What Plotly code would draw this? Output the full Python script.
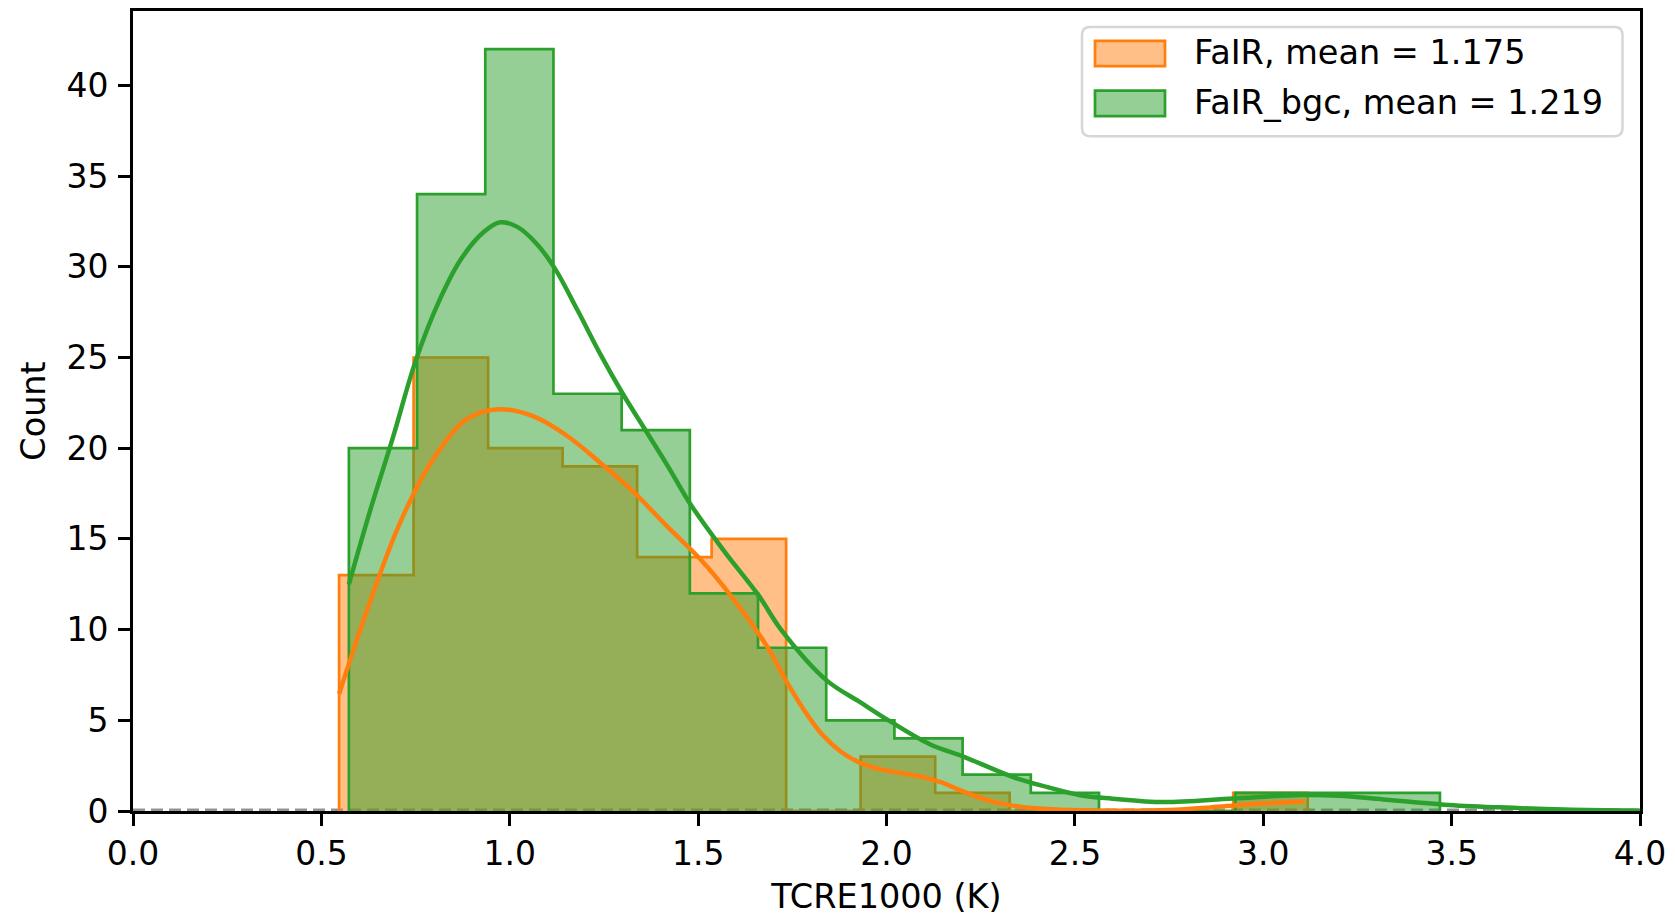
import numpy as np
import plotly.graph_objects as go

# ---------------- data ----------------
orange_name = "FaIR, mean = 1.175"
green_name = "FaIR_bgc, mean = 1.219"

orange_bin_start, orange_bin_end, orange_nbins = 0.547, 3.118, 13
orange_counts = [13, 25, 20, 19, 14, 15, 0, 3, 1, 0, 0, 0, 1]

green_bin_start, green_bin_end, green_nbins = 0.573, 3.469, 16
green_counts = [20, 34, 42, 23, 21, 12, 9, 5, 4, 2, 1, 0, 0, 1, 1, 1]

orange_kde_x = [0.547, 0.620, 0.709, 0.797, 0.886, 0.970, 1.063, 1.151, 1.240,
                1.328, 1.417, 1.505, 1.593, 1.682, 1.730, 1.780, 1.830, 1.880,
                1.930, 1.983, 2.036, 2.089, 2.142, 2.195, 2.248, 2.301, 2.354,
                2.425, 2.513, 2.620, 2.750, 2.860, 2.950, 3.053, 3.110]
orange_kde_y = [6.45, 11.0, 15.9, 19.4, 21.6, 22.15, 21.75, 20.7, 19.2,
                17.6, 15.7, 13.9, 11.7, 9.1, 7.3, 5.6, 4.2, 3.25,
                2.65, 2.3, 2.1, 1.9, 1.6, 1.15, 0.73, 0.42, 0.24,
                0.11, 0.04, 0.02, 0.06, 0.2, 0.35, 0.47, 0.52]

green_kde_x = [0.573, 0.630, 0.690, 0.750, 0.810, 0.870, 0.930, 0.975, 1.020,
               1.070, 1.120, 1.180, 1.240, 1.300, 1.360, 1.420, 1.480, 1.570,
               1.660, 1.720, 1.841, 1.930, 2.009, 2.115, 2.204, 2.336, 2.425,
               2.514, 2.600, 2.735, 2.920, 3.100, 3.200, 3.318, 3.480, 3.628,
               3.800, 4.000]
green_kde_y = [12.5, 16.6, 20.6, 24.8, 28.0, 30.4, 31.9, 32.45, 32.2,
               31.3, 29.9, 27.6, 25.2, 23.0, 21.0, 19.0, 16.9, 14.3,
               11.9, 10.0, 7.2, 6.0, 4.95, 3.68, 3.0, 1.87, 1.33,
               0.87, 0.68, 0.49, 0.69, 0.88, 0.84, 0.64, 0.35, 0.2,
               0.08, 0.02]

x_ticks = [0.0, 0.5, 1.0, 1.5, 2.0, 2.5, 3.0, 3.5, 4.0]
y_ticks = [0, 5, 10, 15, 20, 25, 30, 35, 40]
x_range = [0, 4]
y_range = [0, 44.1]

ORANGE = "#ff7f0e"
GREEN = "#2ca02c"
FONT = "DejaVu Sans"


def step_xy(start, end, nbins, counts):
    edges = np.linspace(start, end, nbins + 1)
    xs = [edges[0]] + list(edges[:-1]) + [edges[-1], edges[-1]]
    ys = [0] + list(counts) + [counts[-1], 0]
    return xs, ys


fig = go.Figure()

# dashed grey baseline
fig.add_trace(go.Scatter(x=x_range, y=[0, 0], mode="lines",
                         line=dict(color="rgba(120,120,120,0.8)", width=5, dash="12px,6px"),
                         showlegend=False, hoverinfo="skip"))

ox, oy = step_xy(orange_bin_start, orange_bin_end, orange_nbins, orange_counts)
fig.add_trace(go.Scatter(x=ox, y=oy, mode="lines", line_shape="hv", fill="tozeroy",
                         fillcolor="rgba(255,127,14,0.5)",
                         line=dict(color=ORANGE, width=2.7), name=orange_name,
                         showlegend=False))

gx, gy = step_xy(green_bin_start, green_bin_end, green_nbins, green_counts)
fig.add_trace(go.Scatter(x=gx, y=gy, mode="lines", line_shape="hv", fill="tozeroy",
                         fillcolor="rgba(44,160,44,0.5)",
                         line=dict(color=GREEN, width=2.7), name=green_name,
                         showlegend=False))

fig.add_trace(go.Scatter(x=orange_kde_x, y=orange_kde_y, mode="lines",
                         line=dict(color=ORANGE, width=4.5, shape="spline", smoothing=1.0),
                         showlegend=False))
fig.add_trace(go.Scatter(x=green_kde_x, y=green_kde_y, mode="lines",
                         line=dict(color=GREEN, width=4.5, shape="spline", smoothing=1.0),
                         showlegend=False))

# ---------------- layout ----------------
L, R, T, B = 133, 1640, 8.5, 814
W, H = 1675, 918


def px(x):
    return (x - L) / (R - L)


def py(y):
    return (B - y) / (B - T)


axis_common = dict(showline=True, mirror=True, linecolor="black", linewidth=2.7,
                   ticks="outside", ticklen=12, tickwidth=2.7, tickcolor="black",
                   showgrid=False, zeroline=False,
                   tickfont=dict(family=FONT, size=33, color="black"))

fig.update_layout(
    width=W, height=H,
    margin=dict(l=L, r=W - R, t=T, b=H - B, pad=0),
    paper_bgcolor="white", plot_bgcolor="white",
    font=dict(family=FONT, color="black"),
    xaxis=dict(range=x_range, tickvals=x_ticks,
               ticktext=[f"{v:.1f}" for v in x_ticks],
               title=dict(text="TCRE1000 (K)", font=dict(family=FONT, size=33.5), standoff=13),
               **axis_common),
    yaxis=dict(range=y_range, tickvals=y_ticks,
               ticktext=[str(v) for v in y_ticks], ticklabelstandoff=3,
               title=dict(text="Count", font=dict(family=FONT, size=33.5), standoff=11),
               **axis_common),
)

# ---------------- manual legend (matplotlib style) ----------------
x0, x1 = px(1082), px(1622.5)
ytop, ybot = py(24.5), py(134.6)
rx, ry = 8 / (R - L), 8 / (B - T)
path = (f"M {x0+rx},{ytop} L {x1-rx},{ytop} Q {x1},{ytop} {x1},{ytop-ry} "
        f"L {x1},{ybot+ry} Q {x1},{ybot} {x1-rx},{ybot} "
        f"L {x0+rx},{ybot} Q {x0},{ybot} {x0},{ybot+ry} "
        f"L {x0},{ytop-ry} Q {x0},{ytop} {x0+rx},{ytop} Z")
fig.add_shape(type="path", path=path, xref="paper", yref="paper",
              fillcolor="rgba(255,255,255,0.8)", line=dict(color="#d6d6d6", width=2.5),
              layer="above")

legend_items = [(orange_name, "rgba(255,127,14,0.5)", ORANGE, 38.5, 64.0),
                (green_name, "rgba(44,160,44,0.5)", GREEN, 88.7, 114.3)]
for name, fc, lc, yt, yb in legend_items:
    fig.add_shape(type="rect", xref="paper", yref="paper",
                  x0=px(1095), x1=px(1165), y0=py(yb), y1=py(yt),
                  fillcolor=fc, line=dict(color=lc, width=2.7), layer="above")
    fig.add_annotation(text=name, xref="paper", yref="paper",
                       x=px(1192), y=py((yt + yb) / 2 - 1), xanchor="left", yanchor="middle",
                       showarrow=False, font=dict(family=FONT, size=33.5, color="black"))

fig.write_html("out.html")
